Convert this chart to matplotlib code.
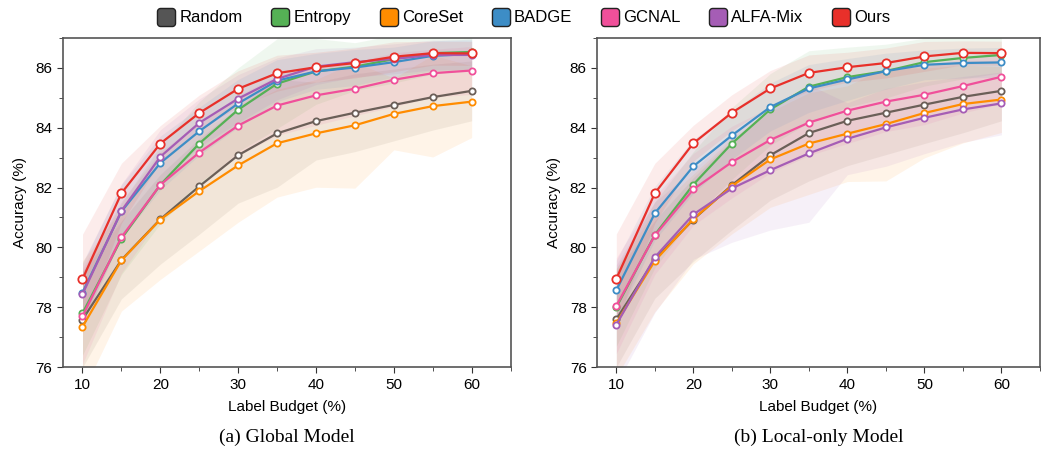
import matplotlib
matplotlib.use('Agg')
import matplotlib.pyplot as plt
from matplotlib.lines import Line2D
from matplotlib.path import Path
from matplotlib.ticker import MultipleLocator
import numpy as np

plt.rcParams['font.family'] = ['Liberation Sans', 'DejaVu Sans']

budget = [10, 15, 20, 25, 30, 35, 40, 45, 50, 55, 60]
methods = ['Random', 'Entropy', 'CoreSet', 'BADGE', 'GCNAL', 'ALFA-Mix', 'Ours']
colors = ['#6b5f58', '#55b155', '#ff8c00', '#3d8dc6', '#f0509a', '#a55db5', '#e8302a']
legend_colors = ['#555555', '#55b155', '#ff8c00', '#3d8dc6', '#f0509a', '#a55db5', '#e8302a']

# (a) Global Model
g_random = [77.59, 79.58, 80.94, 82.04, 83.08, 83.81, 84.22, 84.50, 84.76, 85.02, 85.23]
g_entropy = [77.80, 80.29, 82.09, 83.47, 84.60, 85.47, 85.88, 86.04, 86.29, 86.49, 86.53]
g_coreset = [77.35, 79.57, 80.93, 81.88, 82.74, 83.48, 83.81, 84.08, 84.46, 84.72, 84.87]
g_badge = [78.49, 81.20, 82.82, 83.88, 84.81, 85.57, 85.88, 86.01, 86.19, 86.40, 86.46]
g_gcnal = [77.70, 80.34, 82.09, 83.17, 84.07, 84.74, 85.08, 85.30, 85.60, 85.82, 85.91]
g_alfamix = [78.44, 81.22, 83.03, 84.16, 84.97, 85.63, 86.04, 86.19, 86.30, 86.43, 86.43]
g_ours = [78.94, 81.81, 83.47, 84.49, 85.30, 85.82, 86.02, 86.16, 86.37, 86.49, 86.48]

g_random_std = [1.6, 1.3, 1.5, 1.6, 1.6, 1.8, 1.3, 1.3, 1.2, 1.1, 1.0]
g_entropy_std = [1.4, 1.2, 1.3, 1.4, 1.4, 1.5, 1.1, 0.8, 0.8, 0.7, 0.6]
g_coreset_std = [2.2, 1.7, 2.0, 2.0, 1.9, 1.8, 1.8, 2.1, 1.2, 1.7, 1.2]
g_badge_std = [1.0, 0.9, 0.9, 0.8, 0.8, 0.7, 0.6, 0.6, 0.5, 0.5, 0.5]
g_gcnal_std = [1.6, 1.2, 1.1, 1.0, 1.0, 1.0, 1.0, 0.9, 0.9, 0.8, 0.8]
g_alfamix_std = [1.0, 0.9, 0.9, 0.8, 0.8, 0.7, 0.6, 0.5, 0.5, 0.5, 0.5]
g_ours_std = [1.5, 1.0, 0.6, 0.6, 0.6, 0.6, 0.5, 0.5, 0.5, 0.4, 0.4]

# (b) Local-only Model
l_random = [77.60, 79.60, 80.93, 82.08, 83.08, 83.82, 84.23, 84.50, 84.77, 85.03, 85.23]
l_entropy = [78.00, 80.42, 82.10, 83.47, 84.61, 85.37, 85.69, 85.89, 86.19, 86.33, 86.43]
l_coreset = [77.48, 79.55, 80.95, 82.05, 82.94, 83.47, 83.80, 84.12, 84.49, 84.79, 84.94]
l_badge = [78.57, 81.14, 82.71, 83.74, 84.69, 85.31, 85.61, 85.89, 86.10, 86.16, 86.18]
l_gcnal = [78.05, 80.40, 81.94, 82.85, 83.59, 84.17, 84.57, 84.87, 85.10, 85.39, 85.70]
l_alfamix = [77.42, 79.67, 81.10, 81.97, 82.58, 83.14, 83.63, 84.01, 84.33, 84.61, 84.81]
l_ours = [78.95, 81.81, 83.48, 84.50, 85.31, 85.83, 86.02, 86.16, 86.38, 86.50, 86.49]

l_random_std = [1.6, 1.3, 1.4, 1.5, 1.5, 1.6, 1.5, 1.4, 1.3, 1.2, 1.0]
l_entropy_std = [1.3, 1.1, 1.1, 1.2, 1.2, 1.2, 1.0, 0.9, 0.8, 0.7, 0.6]
l_coreset_std = [1.8, 1.7, 1.5, 1.6, 1.6, 1.7, 1.6, 1.9, 1.5, 1.3, 1.1]
l_badge_std = [1.0, 0.9, 0.9, 0.8, 0.8, 0.8, 0.7, 0.6, 0.5, 0.5, 0.5]
l_gcnal_std = [1.6, 1.3, 1.2, 1.2, 1.1, 1.1, 1.1, 1.0, 1.0, 0.9, 0.9]
l_alfamix_std = [2.0, 1.85, 1.5, 1.8, 2.0, 2.3, 1.2, 1.3, 1.2, 1.1, 1.05]
l_ours_std = [1.5, 1.0, 0.6, 0.6, 0.6, 0.6, 0.5, 0.5, 0.5, 0.4, 0.4]

g_means = [g_random, g_entropy, g_coreset, g_badge, g_gcnal, g_alfamix, g_ours]
g_stds = [g_random_std, g_entropy_std, g_coreset_std, g_badge_std, g_gcnal_std, g_alfamix_std, g_ours_std]
l_means = [l_random, l_entropy, l_coreset, l_badge, l_gcnal, l_alfamix, l_ours]
l_stds = [l_random_std, l_entropy_std, l_coreset_std, l_badge_std, l_gcnal_std, l_alfamix_std, l_ours_std]

fig = plt.figure(figsize=(10.42, 4.51), dpi=100)
ax1 = fig.add_axes([0.0605, 0.186, 0.4295, 0.73])
ax2 = fig.add_axes([0.573, 0.186, 0.425, 0.73])


def draw(ax, means, stds, caption):
    x = np.array(budget)
    for m, s, c in zip(means, stds, colors):
        m = np.array(m)
        s = np.array(s)
        ax.fill_between(x, m - s, m + s, color=c, alpha=0.09, linewidth=0)
    for m, c, name in zip(means, colors, methods):
        ms = 6 if name == 'Ours' else 4.5
        ax.plot(x, m, color=c, lw=1.6, marker='o', ms=ms, mfc='white',
                mec=c, mew=1.3, zorder=3)
    ax.set_xlim(7.5, 65)
    ax.set_ylim(76, 87)
    ax.xaxis.set_major_locator(MultipleLocator(10))
    ax.xaxis.set_minor_locator(MultipleLocator(5))
    ax.yaxis.set_major_locator(MultipleLocator(2))
    ax.yaxis.set_minor_locator(MultipleLocator(1))
    ax.tick_params(which='both', direction='out', labelsize=11, color='#333333')
    ax.tick_params(which='major', length=4)
    ax.tick_params(which='minor', length=3)
    for sp in ax.spines.values():
        sp.set_color('#555555')
        sp.set_linewidth(1.2)
    ax.set_xlabel('Label Budget (%)', fontsize=11, labelpad=6)
    ax.set_ylabel('Accuracy (%)', fontsize=11, labelpad=6)
    ax.text(0.5, -0.213, caption, transform=ax.transAxes, ha='center', va='center',
            fontsize=14, family=['Liberation Serif', 'DejaVu Serif'])


draw(ax1, g_means, g_stds, '(a) Global Model')
draw(ax2, l_means, l_stds, '(b) Local-only Model')

# rounded square marker for legend handles
t = np.linspace(0, np.pi / 2, 6)
r, h = 0.35, 1.0
verts = []
for cx, cy, a0 in [(h - r, h - r, 0), (-h + r, h - r, np.pi / 2),
                   (-h + r, -h + r, np.pi), (h - r, -h + r, 1.5 * np.pi)]:
    verts += [(cx + r * np.cos(a0 + tt), cy + r * np.sin(a0 + tt)) for tt in t]
verts.append(verts[0])
rounded = Path(verts, closed=True)

handles = [Line2D([], [], ls='none', marker=rounded, ms=13, mfc=c, mec='#222222', mew=1.0)
           for c in legend_colors]
fig.legend(handles, methods, loc='upper center', bbox_to_anchor=(0.503, 1.01), ncol=7,
           frameon=False, fontsize=12, handletextpad=0.3, columnspacing=1.75,
           handlelength=1.0)

fig.savefig('out.png', dpi=100)
